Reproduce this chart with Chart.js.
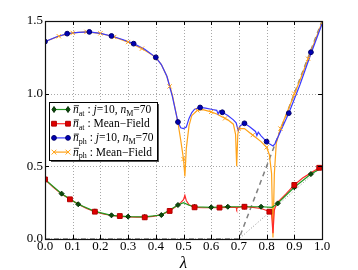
<!DOCTYPE html>
<html><head><meta charset="utf-8">
<script src="https://cdn.jsdelivr.net/npm/chart.js@4/dist/chart.umd.min.js"></script>
<style>html,body{margin:0;padding:0;background:#fff}#wrap{width:358px;height:270px}</style>
</head><body><div id="wrap"><canvas id="c" width="358" height="270"></canvas></div>
<script>
// ---- tick labels ----
const xTicks = [0.0,0.1,0.2,0.3,0.4,0.5,0.6,0.7,0.8,0.9,1.0];
const xTickLabels = ['0.0','0.1','0.2','0.3','0.4','0.5','0.6','0.7','0.8','0.9','1.0'];
const yTicks = [0.0,0.5,1.0,1.5];
const yTickLabels = ['0.0','0.5','1.0','1.5'];
const xAxisLabel = 'λ';

// ---- n_ph : j=10, n_M=70 (blue) ----
const phJLineX = [0,0.04,0.08,0.12,0.16,0.20,0.24,0.28,0.32,0.36,0.40,0.42,0.44,0.46,0.48,0.49,0.50,0.51,0.52,0.53,0.54,0.56,0.58,0.60,0.62,0.625,0.63,0.64,0.66,0.68,0.69,0.697,0.705,0.72,0.74,0.76,0.765,0.77,0.78,0.80,0.81,0.823,0.83,0.85,0.88,0.92,0.96,1.0];
const phJLineY = [1.358,1.39,1.413,1.422,1.425,1.415,1.397,1.373,1.344,1.305,1.25,1.20,1.12,0.98,0.805,0.765,0.76,0.77,0.83,0.87,0.893,0.905,0.90,0.893,0.885,0.86,0.882,0.872,0.85,0.82,0.80,0.75,0.78,0.796,0.77,0.74,0.712,0.735,0.71,0.67,0.655,0.64,0.655,0.74,0.866,1.06,1.275,1.48];
const phJMarkX = [0,0.08,0.16,0.24,0.32,0.40,0.48,0.56,0.64,0.72,0.80,0.88,0.96];
const phJMarkY = [1.358,1.413,1.425,1.397,1.344,1.25,0.805,0.905,0.872,0.796,0.67,0.866,1.285];

// ---- n_ph : Mean-Field (orange) ----
const phMFLineX = [0,0.05,0.10,0.15,0.20,0.25,0.30,0.35,0.40,0.42,0.44,0.46,0.48,0.49,0.50,0.505,0.51,0.52,0.53,0.55,0.57,0.60,0.62,0.64,0.66,0.68,0.688,0.692,0.696,0.70,0.72,0.74,0.76,0.78,0.80,0.81,0.818,0.823,0.828,0.835,0.85,0.88,0.92,0.96,1.0];
const phMFLineY = [1.358,1.395,1.418,1.425,1.415,1.39,1.355,1.31,1.25,1.20,1.12,0.99,0.80,0.68,0.55,0.43,0.62,0.78,0.85,0.885,0.89,0.875,0.86,0.84,0.82,0.79,0.72,0.50,0.72,0.76,0.76,0.73,0.70,0.67,0.63,0.58,0.45,0.01,0.45,0.66,0.76,0.90,1.09,1.29,1.49];
const phMFMarkX = [0.05,0.10,0.15,0.20,0.25,0.30,0.35,0.40,0.45,0.50,0.55,0.60,0.65,0.70,0.75,0.80,0.85,0.90,0.95];
const phMFMarkY = [1.395,1.418,1.425,1.415,1.39,1.355,1.31,1.25,1.05,0.55,0.885,0.875,0.83,0.76,0.715,0.63,0.76,1.0,1.24];

// ---- n_at : Mean-Field (red) ----
const atMFLineX = [0,0.03,0.06,0.09,0.12,0.15,0.18,0.21,0.24,0.27,0.30,0.33,0.36,0.39,0.42,0.45,0.47,0.49,0.50,0.505,0.51,0.52,0.54,0.57,0.60,0.63,0.66,0.69,0.692,0.695,0.72,0.75,0.78,0.81,0.818,0.823,0.828,0.836,0.87,0.90,0.93,0.96,0.99,1.0];
const atMFLineY = [0.41,0.355,0.31,0.273,0.24,0.21,0.188,0.172,0.162,0.156,0.152,0.15,0.15,0.156,0.168,0.193,0.22,0.25,0.27,0.30,0.265,0.235,0.218,0.215,0.215,0.216,0.217,0.218,0.205,0.218,0.222,0.218,0.21,0.19,0.17,0.04,0.20,0.245,0.31,0.372,0.42,0.455,0.49,0.495];
const atMFMarkX = [0,0.09,0.18,0.27,0.36,0.45,0.54,0.63,0.72,0.81,0.90,0.99];
const atMFMarkY = [0.41,0.273,0.188,0.158,0.149,0.193,0.218,0.216,0.222,0.188,0.372,0.49];

// ---- n_at : j=10, n_M=70 (green) ----
const atJLineX = [0,0.06,0.12,0.18,0.24,0.30,0.36,0.42,0.48,0.50,0.52,0.54,0.60,0.66,0.72,0.78,0.82,0.84,0.90,0.96,1.0];
const atJLineY = [0.41,0.312,0.239,0.19,0.163,0.154,0.152,0.165,0.234,0.25,0.232,0.222,0.218,0.222,0.222,0.222,0.218,0.245,0.356,0.447,0.49];
const atJMarkX = [0,0.06,0.12,0.18,0.24,0.30,0.36,0.42,0.48,0.54,0.60,0.66,0.72,0.78,0.84,0.90,0.96];
const atJMarkY = [0.41,0.312,0.239,0.19,0.163,0.154,0.152,0.165,0.234,0.222,0.218,0.222,0.222,0.222,0.245,0.356,0.447];

// ---- guide lines (gray) ----
const dashX = [0,0.7,1.0], dashY = [0,0,1.5];
const dotX = [0,0.7,1.0], dotY = [0,0,0.5];

const pts = (xs, ys) => xs.map((x, i) => ({x, y: ys[i]}));
const SERIF = '"Liberation Serif", "DejaVu Serif", serif';

const COL = {green:'#1f9a1f', greenM:'#0b4d0b', red:'#ff2a2a', redM:'#e00000', blue:'#3a3aff', blueM:'#0000b4', orange:'#ffa319'};

const lineDs = (data, color, order, extra) => Object.assign({data, borderColor: color, borderWidth: 1.2, pointRadius: 0, showLine: true, fill: false, tension: 0, order}, extra||{});
const markDs = (data, style, r, bg, bd, order) => ({data, showLine: false, pointStyle: style, pointRadius: r, pointHoverRadius: r, pointBackgroundColor: bg, pointBorderColor: bd, pointBorderWidth: 1, borderColor: bd, backgroundColor: bg, order});

const datasets = [
  lineDs(pts(dashX, dashY), '#808080', 20, {borderDash:[5,4], borderWidth:1.5}),
  lineDs(pts(dotX, dotY), '#909090', 19, {borderDash:[1,2], borderWidth:1}),
  lineDs(pts(phMFLineX, phMFLineY), COL.orange, 18),
  lineDs(pts(phJLineX, phJLineY), COL.blue, 17),
  markDs(pts(phMFMarkX, phMFMarkY), 'crossRot', 3, COL.orange, COL.orange, 16),
  markDs(pts(phJMarkX, phJMarkY), 'circle', 2.4, COL.blueM, '#00006a', 15),
  lineDs(pts(atMFLineX, atMFLineY), COL.red, 14),
  lineDs(pts(atJLineX, atJLineY), COL.green, 13),
  markDs(pts(atJMarkX, atJMarkY), 'rectRot', 2.5, COL.greenM, '#063006', 12),
  markDs(pts(atMFMarkX, atMFMarkY), 'rect', 3.4, COL.redM, '#b00000', 11)
];

function drawMarker(ctx, style, x, y, color, border) {
  ctx.save();
  ctx.fillStyle = color; ctx.strokeStyle = border; ctx.lineWidth = 1;
  ctx.beginPath();
  if (style === 'rect') { ctx.rect(x-2.4, y-2.4, 4.8, 4.8); ctx.fill(); ctx.stroke(); }
  else if (style === 'circle') { ctx.arc(x, y, 2.4, 0, Math.PI*2); ctx.fill(); ctx.stroke(); }
  else if (style === 'rectRot') { ctx.moveTo(x, y-3); ctx.lineTo(x+2, y); ctx.lineTo(x, y+3); ctx.lineTo(x-2, y); ctx.closePath(); ctx.fill(); ctx.stroke(); }
  else if (style === 'crossRot') { ctx.moveTo(x-2.4,y-2.4); ctx.lineTo(x+2.4,y+2.4); ctx.moveTo(x+2.4,y-2.4); ctx.lineTo(x-2.4,y+2.4); ctx.stroke(); }
  ctx.restore();
}

const legendRows = [
  {color: COL.green, mcolor: COL.greenM, mborder:'#063006', style:'rectRot', parts:[{t:'n',it:1,bar:1},{t:'at',sub:1},{t:' : '},{t:'j',it:1},{t:'=10, '},{t:'n',it:1},{t:'M',sub:1},{t:'=70'}]},
  {color: COL.red, mcolor: COL.redM, mborder:'#b00000', style:'rect', parts:[{t:'n',it:1,bar:1},{t:'at',sub:1},{t:' : Mean−Field'}]},
  {color: COL.blue, mcolor: COL.blueM, mborder:'#00006a', style:'circle', parts:[{t:'n',it:1,bar:1},{t:'ph',sub:1},{t:' : '},{t:'j',it:1},{t:'=10, '},{t:'n',it:1},{t:'M',sub:1},{t:'=70'}]},
  {color: COL.orange, mcolor: COL.orange, mborder: COL.orange, style:'crossRot', parts:[{t:'n',it:1,bar:1},{t:'ph',sub:1},{t:' : Mean−Field'}]}
];

function drawRich(ctx, x, y, parts) {
  ctx.textBaseline = 'alphabetic';
  ctx.fillStyle = '#000';
  for (const p of parts) {
    const size = p.sub ? 8 : 11.5;
    ctx.font = (p.it ? 'italic ' : '') + size + 'px ' + SERIF;
    const yy = p.sub ? y + 2.5 : y;
    ctx.fillText(p.t, x, yy);
    const w = ctx.measureText(p.t).width;
    if (p.bar) {
      ctx.save(); ctx.strokeStyle = '#000'; ctx.lineWidth = 0.8;
      ctx.beginPath(); ctx.moveTo(x + 0.8, y - 7.3); ctx.lineTo(x + w + 0.3, y - 7.3); ctx.stroke(); ctx.restore();
    }
    x += w;
  }
}

const plotDecor = {
  id: 'plotDecor',
  beforeDatasetsDraw(chart) {
    const {ctx, chartArea: a, scales: {x, y}} = chart;
    ctx.save();
    ctx.strokeStyle = '#a8a8a8'; ctx.lineWidth = 1; ctx.setLineDash([1, 2]);
    for (const v of xTicks) { if (v <= 0 || v >= 1) continue; const px = Math.round(x.getPixelForValue(v)) + 0.5; ctx.beginPath(); ctx.moveTo(px, a.top); ctx.lineTo(px, a.bottom); ctx.stroke(); }
    for (const v of yTicks) { if (v <= 0 || v >= 1.5) continue; const py = Math.round(y.getPixelForValue(v)) + 0.5; ctx.beginPath(); ctx.moveTo(a.left, py); ctx.lineTo(a.right, py); ctx.stroke(); }
    ctx.restore();
  },
  afterDatasetsDraw(chart) {
    const {ctx, chartArea: a, scales: {x, y}} = chart;
    ctx.save();
    // inward tick marks
    ctx.strokeStyle = '#000'; ctx.lineWidth = 1;
    for (const v of xTicks) { const px = Math.round(x.getPixelForValue(v)) + 0.5; ctx.beginPath(); ctx.moveTo(px, a.bottom); ctx.lineTo(px, a.bottom - 4); ctx.moveTo(px, a.top); ctx.lineTo(px, a.top + 4); ctx.stroke(); }
    for (const v of yTicks) { const py = Math.round(y.getPixelForValue(v)) + 0.5; ctx.beginPath(); ctx.moveTo(a.left, py); ctx.lineTo(a.left + 4, py); ctx.moveTo(a.right, py); ctx.lineTo(a.right - 4, py); ctx.stroke(); }
    // frame
    ctx.strokeStyle = '#111'; ctx.lineWidth = 1.2;
    ctx.strokeRect(Math.round(a.left) + 0.5, Math.round(a.top) + 0.5, Math.round(a.right - a.left), Math.round(a.bottom - a.top));
    // axis label
    ctx.fillStyle = '#000'; ctx.font = 'italic 17px ' + SERIF; ctx.textAlign = 'center'; ctx.textBaseline = 'alphabetic';
    ctx.fillText(xAxisLabel, (a.left + a.right) / 2, 268);
    // legend
    const lx = 49, ly = 102, lw = 108, lh = 58;
    ctx.fillStyle = '#555'; ctx.fillRect(lx + 2, ly + 2, lw, lh);
    ctx.fillStyle = '#fff'; ctx.fillRect(lx, ly, lw, lh);
    ctx.strokeStyle = '#000'; ctx.lineWidth = 1; ctx.strokeRect(lx + 0.5, ly + 0.5, lw, lh);
    ctx.textAlign = 'left';
    legendRows.forEach((r, i) => {
      const cy = ly + 7.5 + i * 14.2;
      ctx.strokeStyle = r.color; ctx.lineWidth = 1.2; ctx.setLineDash([]);
      ctx.beginPath(); ctx.moveTo(54, cy); ctx.lineTo(68, cy); ctx.stroke();
      drawMarker(ctx, r.style, 54, cy, r.mcolor, r.mborder);
      drawMarker(ctx, r.style, 68, cy, r.mcolor, r.mborder);
      drawRich(ctx, 73, cy + 3.5, r.parts);
    });
    ctx.restore();
  }
};

new Chart(document.getElementById('c'), {
  type: 'scatter',
  data: { datasets },
  options: {
    responsive: false, animation: false, devicePixelRatio: 1,
    layout: { padding: { top: 21, right: 36, left: 0, bottom: 0 } },
    plugins: { legend: { display: false }, tooltip: { enabled: false } },
    elements: { line: { capBezierPoints: false } },
    scales: {
      x: {
        type: 'linear', min: 0, max: 1,
        afterBuildTicks: s => { s.ticks = xTicks.map(v => ({value: v})); },
        afterFit: s => { s.height = 31; },
        ticks: { callback: (v) => xTickLabels[xTicks.findIndex(t => Math.abs(t - v) < 1e-9)], color: '#000', font: { family: SERIF, size: 13 }, padding: 0, maxRotation: 0, autoSkip: false },
        grid: { display: false, drawTicks: false, tickLength: 0 },
        border: { display: false }
      },
      y: {
        type: 'linear', min: 0, max: 1.5,
        afterBuildTicks: s => { s.ticks = yTicks.map(v => ({value: v})); },
        afterFit: s => { s.width = 45; },
        ticks: { callback: (v) => yTickLabels[yTicks.findIndex(t => Math.abs(t - v) < 1e-9)], color: '#000', font: { family: SERIF, size: 13 }, padding: 2, autoSkip: false },
        grid: { display: false, drawTicks: false, tickLength: 0 },
        border: { display: false }
      }
    }
  },
  plugins: [plotDecor]
});
</script></body></html>
